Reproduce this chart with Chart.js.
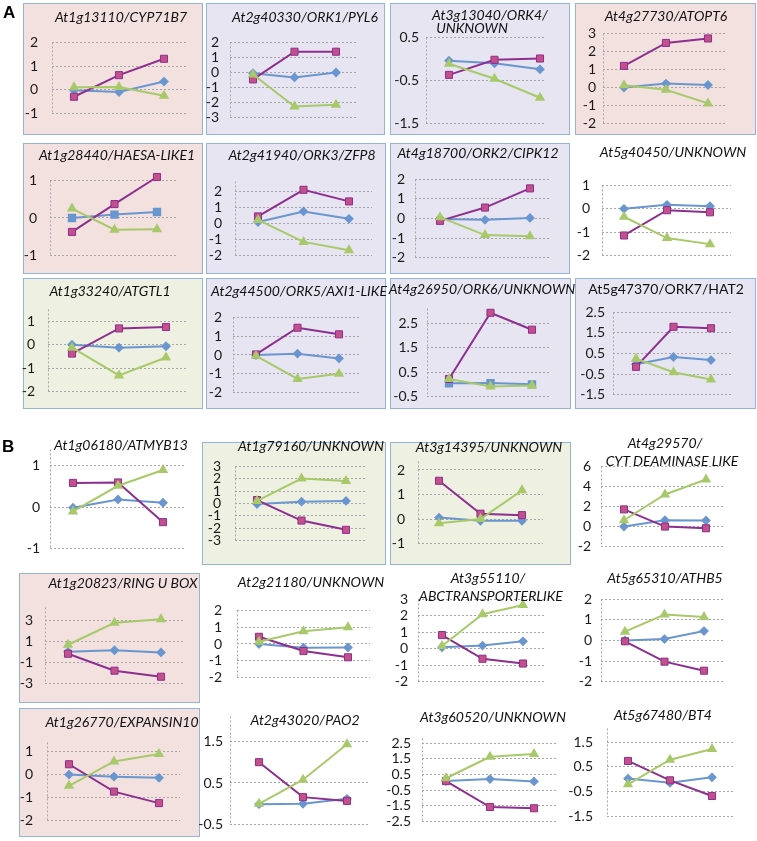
<!DOCTYPE html>
<html><head><meta charset="utf-8">
<script src="https://cdn.jsdelivr.net/npm/chart.js@4.4.1/dist/chart.umd.min.js"></script>
<style>
html,body{margin:0;padding:0;background:#fff;}
#root{position:relative;width:757px;height:841px;overflow:hidden;font-family:Lato,'Open Sans',sans-serif;}
.box{position:absolute;box-sizing:border-box;border:1.5px solid #95b3d7;}
.title{position:absolute;font-style:italic;font-size:14px;color:#111;white-space:nowrap;transform:translate(-50%,-50%);line-height:1;}
.title.up{font-style:normal;}
canvas{position:absolute;}
.lab{position:absolute;font:bold 17px 'Liberation Sans',Arial,sans-serif;color:#000;line-height:1;}
</style></head><body><div id="root"></div>
<script>
// ---------------- DATA ----------------
const timePoints = ['T1', 'T2', 'T3'];
const genes = [
  ['At1g13110/CYP71B7'], ['At2g40330/ORK1/PYL6'], ['At3g13040/ORK4/', 'UNKNOWN'], ['At4g27730/ATOPT6'],
  ['At1g28440/HAESA-LIKE1'], ['At2g41940/ORK3/ZFP8'], ['At4g18700/ORK2/CIPK12'], ['At5g40450/UNKNOWN'],
  ['At1g33240/ATGTL1'], ['At2g44500/ORK5/AXI1-LIKE'], ['At4g26950/ORK6/UNKNOWN'], ['At5g47370/ORK7/HAT2'],
  ['At1g06180/ATMYB13'], ['At1g79160/UNKNOWN'], ['At3g14395/UNKNOWN'], ['At4g29570/', 'CYT DEAMINASE LIKE'],
  ['At1g20823/RING U BOX'], ['At2g21180/UNKNOWN'], ['At3g55110/', 'ABCTRANSPORTERLIKE'], ['At5g65310/ATHB5'],
  ['At1g26770/EXPANSIN10'], ['At2g43020/PAO2'], ['At3g60520/UNKNOWN'], ['At5g67480/BT4']
];
const blueSeries = [
  [-0.02, -0.09, 0.35], [-0.05, -0.33, 0.0], [-0.04, -0.1, -0.24], [0.0, 0.22, 0.14],
  [0.0, 0.09, 0.16], [0.08, 0.74, 0.28], [-0.03, -0.07, 0.03], [0.0, 0.17, 0.11],
  [0.0, -0.13, -0.07], [0.0, 0.07, -0.18], [0.04, 0.05, 0.0], [-0.02, 0.33, 0.18],
  [-0.01, 0.19, 0.11], [-0.04, 0.15, 0.21], [0.06, -0.07, -0.07], [0.0, 0.63, 0.6],
  [0.0, 0.15, -0.05], [0.0, -0.22, -0.21], [0.09, 0.19, 0.45], [0.0, 0.07, 0.46],
  [0.0, -0.09, -0.14], [-0.01, 0.0, 0.12], [0.08, 0.21, 0.06], [0.03, -0.14, 0.08]
];
const magentaSeries = [
  [-0.29, 0.62, 1.31], [-0.46, 1.38, 1.38], [-0.37, -0.02, 0.01], [1.2, 2.47, 2.72],
  [-0.37, 0.37, 1.09], [0.43, 2.08, 1.36], [-0.12, 0.56, 1.54], [-1.14, -0.06, -0.15],
  [-0.38, 0.69, 0.75], [0.03, 1.45, 1.1], [0.22, 2.92, 2.23], [-0.15, 1.8, 1.73],
  [0.59, 0.6, -0.36], [0.28, -1.38, -2.13], [1.56, 0.22, 0.16], [1.71, 0.0, -0.17],
  [-0.18, -1.78, -2.35], [0.43, -0.42, -0.79], [0.83, -0.61, -0.9], [-0.04, -1.03, -1.47],
  [0.45, -0.74, -1.24], [1.0, 0.16, 0.07], [0.08, -1.57, -1.65], [0.74, -0.04, -0.67]
];
const greenSeries = [
  [0.11, 0.12, -0.25], [-0.13, -2.26, -2.15], [-0.11, -0.46, -0.9], [0.12, -0.12, -0.88],
  [0.25, -0.31, -0.3], [0.21, -1.15, -1.67], [0.07, -0.85, -0.91], [-0.34, -1.25, -1.51],
  [-0.13, -1.31, -0.55], [-0.04, -1.27, -1.0], [0.22, -0.09, -0.05], [0.25, -0.41, -0.77],
  [-0.1, 0.52, 0.9], [0.21, 2.02, 1.81], [-0.17, 0.0, 1.17], [0.63, 3.2, 4.69],
  [0.67, 2.74, 3.07], [0.13, 0.76, 1.0], [0.17, 2.1, 2.66], [0.43, 1.26, 1.14],
  [-0.49, 0.57, 0.9], [0.0, 0.58, 1.43], [0.26, 1.63, 1.81], [-0.2, 0.79, 1.22]
];
const yTickValues = [
  [-1, 0, 1, 2], [-3, -2, -1, 0, 1, 2], [-1.5, -0.5, 0.5], [-2, -1, 0, 1, 2, 3],
  [-1, 0, 1], [-2, -1, 0, 1, 2], [-2, -1, 0, 1, 2], [-2, -1, 0, 1],
  [-2, -1, 0, 1], [-2, -1, 0, 1, 2], [-0.5, 0.5, 1.5, 2.5], [-1.5, -0.5, 0.5, 1.5, 2.5],
  [-1, 0, 1], [-3, -2, -1, 0, 1, 2, 3], [-1, 0, 1, 2], [-2, 0, 2, 4, 6],
  [-3, -1, 1, 3], [-2, -1, 0, 1, 2], [-2, -1, 0, 1, 2, 3], [-2, -1, 0, 1, 2],
  [-2, -1, 0, 1], [-0.5, 0.5, 1.5], [-2.5, -1.5, -0.5, 0.5, 1.5, 2.5], [-1.5, -0.5, 0.5, 1.5]
];
const yRanges = [
  [-1, 2], [-3, 2], [-1.5, 0.5], [-2, 3],
  [-1, 1], [-2, 2.6], [-2, 2], [-2, 1],
  [-2, 1.5], [-2, 2], [-0.5, 3.1], [-1.5, 2.5],
  [-1, 1.4], [-3, 3], [-1, 2.35], [-2, 6],
  [-3, 4.2], [-2, 2], [-2, 3], [-2, 2],
  [-2, 1.4], [-0.5, 2.1], [-2.5, 2.8], [-1.5, 2.05]
];

// ---------------- LAYOUT (pixels) ----------------
// panel frame: [x, y, w, h, fill] or null
const boxes = [
  [23, 3, 180, 132, 'pink'], [206, 3, 179, 132, 'lav'], [390, 3, 180, 132, 'lav'], [575, 3, 181, 132, 'pink'],
  [23, 143, 180, 131, 'pink'], [206, 143, 180, 131, 'lav'], [390, 143, 180, 131, 'lav'], null,
  [23, 278, 180, 131, 'beige'], [206, 278, 180, 131, 'lav'], [390, 278, 181, 131, 'lav'], [575, 278, 181, 131, 'lav'],
  null, [202, 442, 184, 123, 'beige'], [390, 442, 181, 123, 'beige'], null,
  [19, 573, 181, 130, 'pink'], null, null, null,
  [19, 708, 181, 129, 'pink'], null, null, null
];
// plot area: [left, right, firstPointX, lastPointX, top, bottom, labelPad]
const plots = [
  [52, 188, 74, 164, 32, 124, 14], [230, 357, 253, 336, 35, 125, 11], [426, 545, 449, 540, 34, 127, 7], [603, 726, 624, 708, 30, 127, 7],
  [50, 177, 72, 157, 171, 265, 13], [235, 372, 258, 349, 172, 265, 13], [415, 551, 440, 530, 173, 264, 10], [602, 731, 624, 710, 177, 264, 12],
  [48, 188, 72, 166, 300, 401, 13], [233, 360, 256, 339, 310, 400, 11], [427, 551, 449, 532, 303.6, 402, 9], [613, 731, 636, 711, 308, 399, 8],
  [50, 185, 73, 163, 443.4, 555, 10], [235, 367, 257, 346, 456, 551, 14], [418, 543, 439, 522, 452.5, 553, 13], [601, 725, 624, 706, 460, 553, 10],
  [45, 183, 68, 161, 599.6, 692, 12], [237, 370, 259, 348, 599, 689, 15], [418, 545, 442, 523, 593, 688, 10], [601, 725, 625, 704, 594, 687, 9],
  [47, 180, 69, 159, 732.4, 831, 14], [230, 370, 259, 347, 713.6, 828, 7], [422, 556, 446, 534, 731.7, 829, 11], [607, 733, 628, 712, 718, 827, 14]
];
// title line centres
const titleAt = [
  [[121, 17]], [[305, 17]], [[490, 15], [472, 28]], [[666, 16]],
  [[117, 155]], [[302, 155]], [[478, 153]], [[673, 152]],
  [[110, 291]], [[299, 291]], [[482, 289]], [[666, 289]],
  [[121, 445]], [[311, 446]], [[489, 447]], [[665, 443], [672, 461]],
  [[123, 583]], [[311, 582]], [[488, 578], [491, 596]], [[665, 578]],
  [[122, 722]], [[305, 720]], [[493, 717]], [[663, 715]]
];
const uprightTitles = [11];
const squareBlue = [4, 10];

const BG = {pink: '#f2e1df', lav: '#e7e5f1', beige: '#eef0e1'};
const BLUE = '#6a96cf', MAG_LINE = '#8c2f8e', MAG_FILL = '#c4508b', GREEN = '#a8c96a';

const root = document.getElementById('root');

function addLabel(text, x, y) {
  const d = document.createElement('div');
  d.className = 'lab'; d.textContent = text;
  d.style.left = x + 'px'; d.style.top = y + 'px';
  root.appendChild(d);
}

const axisLinePlugin = {
  id: 'axisLine',
  beforeDatasetsDraw(chart) {
    const {ctx, chartArea: a} = chart;
    const x = Math.round(a.left) + 0.5;
    ctx.save();
    ctx.strokeStyle = '#a8a8a8'; ctx.lineWidth = 1; ctx.setLineDash([2, 2]);
    ctx.beginPath(); ctx.moveTo(x, a.top); ctx.lineTo(x, a.bottom); ctx.stroke();
    ctx.restore();
  }
};

for (let i = 0; i < genes.length; i++) {
  const b = boxes[i];
  if (b) {
    const d = document.createElement('div');
    d.className = 'box';
    Object.assign(d.style, {left: b[0] + 'px', top: b[1] + 'px', width: b[2] + 'px', height: b[3] + 'px', background: BG[b[4]]});
    root.appendChild(d);
  }
  const [L, R, p1, p3, T, B, lp] = plots[i];
  const AW = 45, PR = 10, PV = 12;
  const cl = L - AW, ct = Math.floor(T) - PV;
  const cw = R - cl + PR, ch = Math.ceil(B) + PV - ct;
  const cv = document.createElement('canvas');
  cv.width = cw; cv.height = ch;
  cv.style.left = cl + 'px'; cv.style.top = ct + 'px';
  cv.style.width = cw + 'px'; cv.style.height = ch + 'px';
  root.appendChild(cv);

  const s = (p3 - p1) / 2;
  const xmin = -(p1 - L) / s, xmax = 2 + (R - p3) / s;
  const pts = arr => arr.map((v, j) => ({x: j, y: v, label: timePoints[j]}));
  const ticks = yTickValues[i];

  new Chart(cv, {
    type: 'line',
    data: {
      datasets: [
        {data: pts(greenSeries[i]), borderColor: GREEN, backgroundColor: GREEN, pointStyle: 'triangle',
         pointRadius: 4, pointBorderColor: GREEN, borderWidth: 2, clip: false},
        {data: pts(magentaSeries[i]), borderColor: MAG_LINE, backgroundColor: MAG_FILL, pointStyle: 'rect',
         pointRadius: 5, pointBorderColor: MAG_LINE, pointBorderWidth: 1, borderWidth: 2, clip: false},
        {data: pts(blueSeries[i]), borderColor: BLUE, backgroundColor: BLUE,
         pointStyle: squareBlue.includes(i) ? 'rect' : 'rectRot',
         pointRadius: squareBlue.includes(i) ? 4.5 : 3.5, pointBorderColor: BLUE, borderWidth: 2, clip: false}
      ]
    },
    options: {
      responsive: false, animation: false, devicePixelRatio: 1,
      layout: {padding: {left: 0, right: PR, top: T - ct, bottom: ct + ch - B}},
      plugins: {legend: {display: false}, tooltip: {enabled: false}, title: {display: false}},
      scales: {
        x: {type: 'linear', min: xmin, max: xmax, display: false},
        y: {
          type: 'linear', min: yRanges[i][0], max: yRanges[i][1],
          afterFit(scale) { scale.width = AW; },
          afterBuildTicks(scale) { scale.ticks = ticks.map(v => ({value: v})); },
          ticks: {autoSkip: false, padding: lp, color: '#1a1a1a', font: {family: 'Lato', size: 14},
                  callback: v => String(v)},
          grid: {color: '#a6a6a6', lineWidth: 1, drawTicks: false},
          border: {display: false, dash: [2, 2]}
        }
      }
    },
    plugins: [axisLinePlugin]
  });

  genes[i].forEach((line, k) => {
    const t = document.createElement('div');
    t.className = 'title' + (uprightTitles.includes(i) ? ' up' : '');
    t.textContent = line;
    t.style.left = titleAt[i][k][0] + 'px';
    t.style.top = titleAt[i][k][1] + 'px';
    root.appendChild(t);
  });
}
addLabel('A', 3, 4);
addLabel('B', 2, 438);
</script>
</body></html>
